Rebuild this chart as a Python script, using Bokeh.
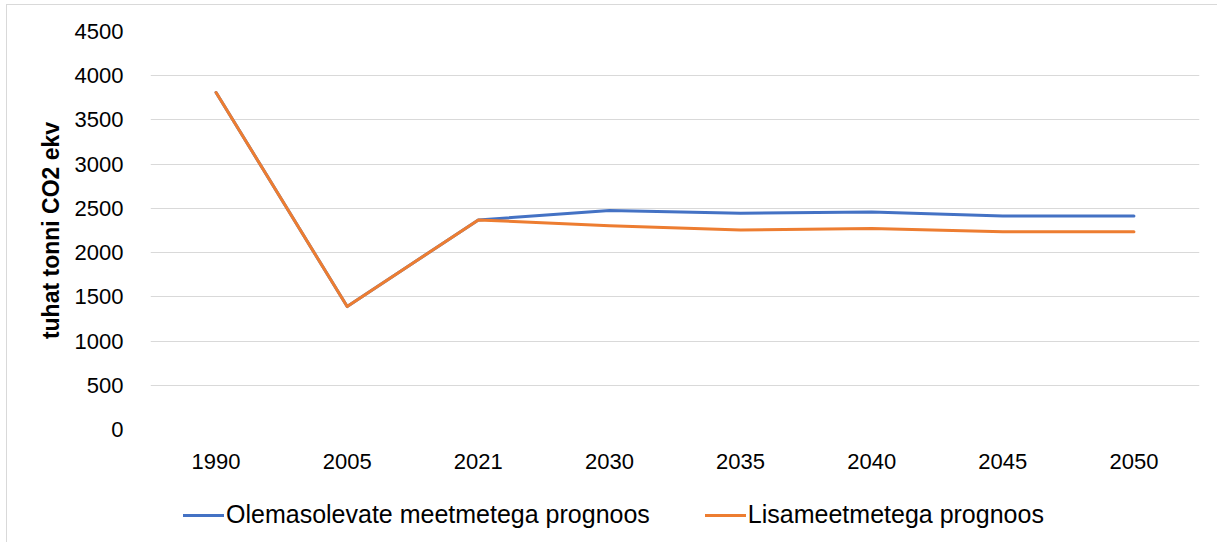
from bokeh.plotting import figure
from bokeh.models import Range1d, Legend, LegendItem, SingleIntervalTicker
from bokeh.layouts import column
from bokeh.embed import file_html
from bokeh.resources import INLINE

years = ["1990", "2005", "2021", "2030", "2035", "2040", "2045", "2050"]
olemasolevate = [3810, 1390, 2370, 2475, 2445, 2460, 2415, 2415]
lisameetmetega = [3810, 1390, 2370, 2305, 2255, 2272, 2235, 2235]
series_names = ["Olemasolevate meetmetega prognoos", "Lisameetmetega prognoos"]
y_label = "tuhat tonni CO2 ekv"
colors = ["#4472C4", "#ED7D31"]

FONT = "Liberation Sans"

p = figure(x_range=years, y_range=Range1d(0, 4500), width=1210, height=485,
           output_backend="svg", toolbar_location=None,
           min_border_left=143, min_border_right=18, min_border_top=26, min_border_bottom=61)
p.outline_line_color = None
p.background_fill_color = "white"

p.line(years, olemasolevate, line_color=colors[0], line_width=3, line_cap="round", line_join="round")
p.line(years, lisameetmetega, line_color=colors[1], line_width=3, line_cap="round", line_join="round")

p.yaxis.ticker = SingleIntervalTicker(interval=500)
p.ygrid.grid_line_color = "#d9d9d9"
p.ygrid.grid_line_width = 1
p.xgrid.grid_line_color = None

for ax in (p.xaxis[0], p.yaxis[0]):
    ax.axis_line_color = None
    ax.major_tick_line_color = None
    ax.minor_tick_line_color = None
    ax.major_tick_out = 0
    ax.minor_tick_out = 0
    ax.major_label_text_font = FONT
    ax.major_label_text_font_size = "22px"
    ax.major_label_text_color = "#000000"

p.yaxis.major_label_standoff = 27
p.xaxis.major_label_standoff = 24
p.yaxis.axis_label = y_label
p.yaxis.axis_label_text_font = FONT
p.yaxis.axis_label_text_font_size = "23px"
p.yaxis.axis_label_text_font_style = "bold"
p.yaxis.axis_label_text_color = "#000000"
p.yaxis.axis_label_standoff = 8

# legend strip below the chart (its frame is aligned with the chart's frame)
lg = figure(width=1210, height=52, x_range=years, y_range=Range1d(-2, -1),
            output_backend="svg", toolbar_location=None,
            x_axis_type=None, y_axis_type=None,
            min_border_left=0, min_border_right=0, min_border_top=0, min_border_bottom=0)
lg.outline_line_color = None
lg.xgrid.grid_line_color = None
lg.ygrid.grid_line_color = None
l1 = lg.line(years, olemasolevate, line_color=colors[0], line_width=3, line_cap="round")
l2 = lg.line(years, lisameetmetega, line_color=colors[1], line_width=3, line_cap="round")

legend = Legend(items=[LegendItem(label=series_names[0], renderers=[l1]),
                       LegendItem(label=series_names[1], renderers=[l2])],
                orientation="horizontal", location=(33, 13),
                label_text_font=FONT, label_text_font_size="25px", label_text_color="#000000",
                glyph_width=41, glyph_height=24, label_height=24, spacing=55, label_standoff=2,
                border_line_color=None, background_fill_alpha=0, margin=0, padding=4)
lg.add_layout(legend, "center")

layout = column(p, lg, spacing=0,
                styles={"border-left": "1px solid #d9d9d9", "border-top": "1px solid #d9d9d9",
                        "margin-left": "6px", "margin-top": "4px"})

open("out.html", "w").write(file_html(layout, INLINE))
